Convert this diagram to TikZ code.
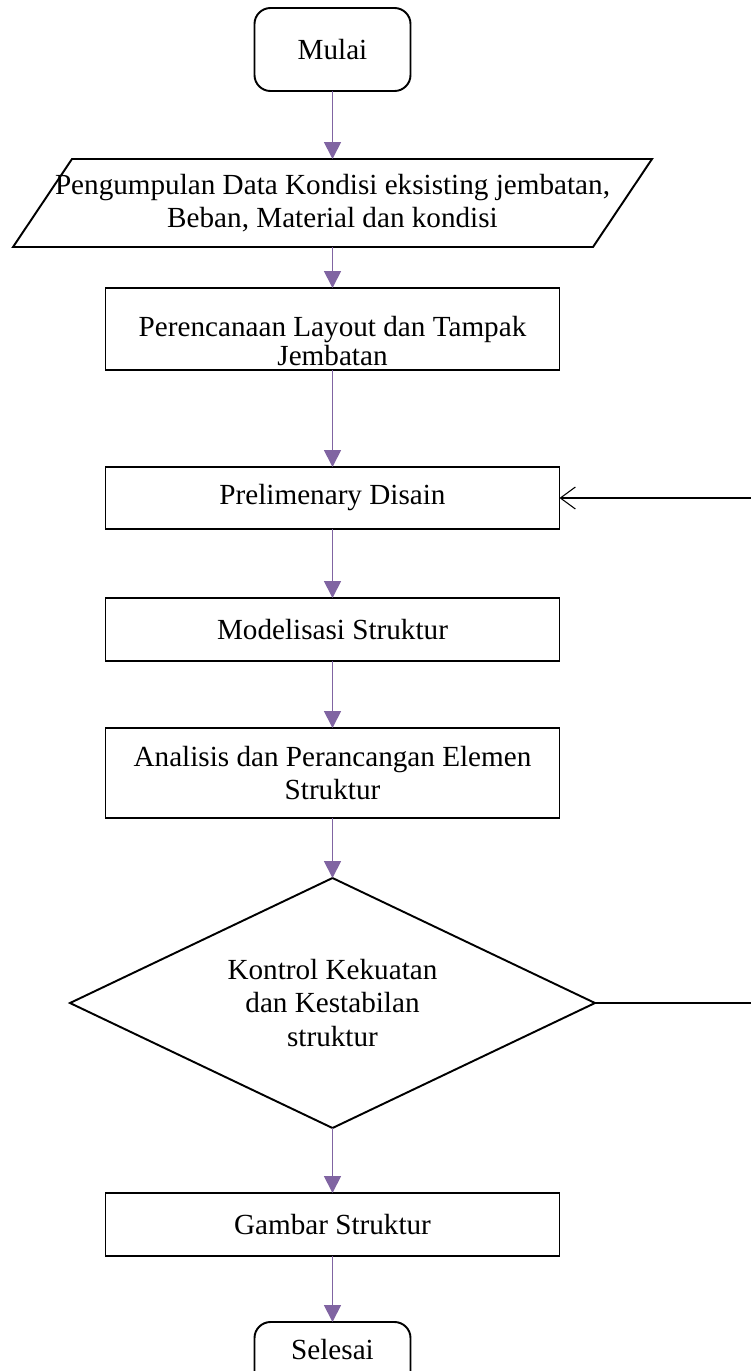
\documentclass[tikz,border=0pt]{standalone}
\usepackage{fontspec}
\setmainfont{Liberation Serif}
\usepackage{xcolor}
\usepackage{tikz}
\usetikzlibrary{positioning,shapes,arrows.meta}
\definecolor{flowpurple}{HTML}{8064A2}
\tikzstyle{base}=[draw=black, line width=1.1pt, inner sep=0pt, outer sep=0pt, align=center,
        font=\fontsize{16.6}{18.8}\selectfont]
\tikzstyle{terminal}=[base, rectangle, rounded corners=0.32cm, minimum width=3.12cm, minimum height=1.66cm]
\tikzstyle{io}=[base, draw=none, rectangle, minimum width=11.6cm, minimum height=1.76cm]
\tikzstyle{ioline}=[line width=1.1pt, line join=miter]
\tikzstyle{process}=[base, rectangle, minimum width=9.08cm]
\tikzstyle{decision}=[base, diamond, aspect=2.1, minimum width=10.5cm, minimum height=5cm]
\tikzstyle{flow}=[-{Triangle[length=0.34cm,width=0.34cm]}, draw=flowpurple, fill=flowpurple, line width=1pt]
\tikzstyle{back}=[-{Straight Barb[length=0.3cm,width=0.44cm]}, line width=0.6pt]

\begin{document}
\begin{tikzpicture}
    \useasboundingbox (0,0) rectangle (15,-27.42);
    \node (start) [terminal] at (6.65,-0.99) {Mulai};
    \node (data) [io, below=1.36cm of start]
        {Pengumpulan Data Kondisi eksisting jembatan,\\Beban, Material dan kondisi};
    \draw[ioline] ([xshift=0.59cm]data.north west) -- ([xshift=0.59cm]data.north east)
        -- ([xshift=-0.59cm]data.south east) -- ([xshift=-0.59cm]data.south west) -- cycle;
    \node (plan) [process, minimum height=1.64cm, text height=1.54cm, text depth=0.1cm,
        font=\fontsize{16.6}{16.5}\selectfont, below=0.82cm of data]
        {Perencanaan Layout dan Tampak\\Jembatan};
    \node (prelim) [process, minimum height=1.24cm, below=1.94cm of plan] {Prelimenary Disain};
    \node (model) [process, minimum height=1.26cm, below=1.38cm of prelim] {Modelisasi Struktur};
    \node (analysis) [process, minimum height=1.8cm, below=1.34cm of model]
        {Analisis dan Perancangan Elemen\\Struktur};
    \node (check) [decision, below=1.2cm of analysis]
        {Kontrol Kekuatan\\dan Kestabilan\\struktur};
    \node (gambar) [process, minimum height=1.26cm, below=1.3cm of check] {Gambar Struktur};
    \node (finish) [terminal, text height=0.74cm, text depth=0.92cm, below=1.32cm of gambar] {Selesai};
    \coordinate (edge) at (15.1,0);

    \draw[flow] (start) -- (data);
    \draw[flow] (data) -- (plan);
    \draw[flow] (plan) -- (prelim);
    \draw[flow] (prelim) -- (model);
    \draw[flow] (model) -- (analysis);
    \draw[flow] (analysis) -- (check);
    \draw[flow] (check) -- (gambar);
    \draw[flow] (gambar) -- (finish);
    \draw[back] (check.east) -- (check.east -| edge) |- (prelim.east);
\end{tikzpicture}
\end{document}
